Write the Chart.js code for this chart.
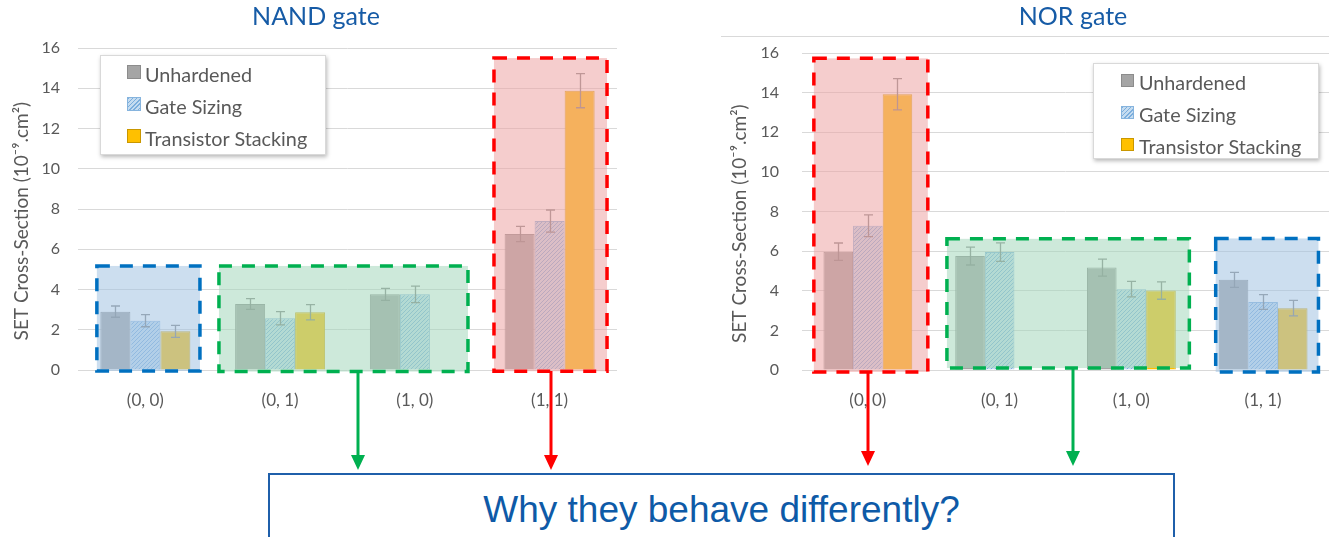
<!DOCTYPE html>
<html>
<head>
<meta charset="utf-8">
<script src="https://cdn.jsdelivr.net/npm/chart.js@4.4.0/dist/chart.umd.min.js"></script>
<style>
  html, body { margin: 0; padding: 0; background: #fff; }
  body { width: 1329px; height: 537px; position: relative; overflow: hidden; font-family: Lato, "DejaVu Sans", sans-serif; }
  canvas { position: absolute; top: 0; }
  #nand { left: 0; }
  #nor { left: 700px; }
  .title { position: absolute; top: 0; line-height: 30px; font: 25px Lato, sans-serif; color: #165BA6; transform: translateX(-50%); white-space: nowrap; }
  .frame-top { position: absolute; left: 721px; top: 36px; width: 608px; height: 1px; background: #D9D9D9; }
  .legend { position: absolute; background: #fff; border: 1px solid #D9D9D9; box-shadow: 1px 2px 4px rgba(0,0,0,0.28); box-sizing: border-box; }
  .legend .item { position: absolute; height: 20px; line-height: 20px; font: 19.8px Lato, sans-serif; color: #595959; white-space: nowrap; }
  .legend .sw { position: absolute; box-sizing: border-box; border: 1px solid; }
  #overlay { position: absolute; left: 0; top: 0; }
  .question { position: absolute; left: 268px; top: 473px; width: 907px; height: 80px; box-sizing: border-box; border: 2px solid #1F5FAA; background: #fff; }
  .question span { position: absolute; left: 0; right: 0; top: 14px; text-align: center; font: 37px "Liberation Sans", Arial, sans-serif; color: #0E5AA7; white-space: nowrap; }
</style>
</head>
<body>
<canvas id="nand" width="640" height="420"></canvas>
<canvas id="nor" width="629" height="420"></canvas>
<div class="frame-top"></div>
<div class="title" style="left:316px">NAND gate</div>
<div class="title" style="left:1073px">NOR gate</div>
<div class="legend" id="legNand" style="left:100px; top:55px; width:226px; height:100px"></div>
<div class="legend" id="legNor" style="left:1093px; top:63px; width:226px; height:96px"></div>
<div class="question"><span>Why they behave differently?</span></div>
<svg id="overlay" width="1329" height="537">
  <line x1="358" y1="372" x2="358" y2="456" stroke="#00B050" stroke-width="3"/>
  <polygon points="351,455 365,455 358,470" fill="#00B050"/>
  <line x1="551" y1="371" x2="551" y2="456" stroke="#FF0000" stroke-width="3"/>
  <polygon points="544,455 558,455 551,470" fill="#FF0000"/>
  <line x1="868" y1="372" x2="868" y2="452" stroke="#FF0000" stroke-width="3"/>
  <polygon points="861,451 875,451 868,466" fill="#FF0000"/>
  <line x1="1073" y1="368" x2="1073" y2="452" stroke="#00B050" stroke-width="3"/>
  <polygon points="1066,451 1080,451 1073,466" fill="#00B050"/>
</svg>
<script>
// Input combinations and series
const categories = ['(0, 0)', '(0, 1)', '(1, 0)', '(1, 1)'];
const seriesNames = ['Unhardened', 'Gate Sizing', 'Transistor Stacking'];
const yTicks = [0, 2, 4, 6, 8, 10, 12, 14, 16];
// trailing spaces nudge the rotated axis title a little lower along the axis
const yTitle = 'SET Cross-Section (10\u207B\u2079.cm\u00B2)     ';

// NAND gate cross-sections (10^-9 cm^2) and error half-widths
const nandUnhardened = [2.90, 3.28, 3.76, 6.76];
const nandGateSizing = [2.45, 2.57, 3.76, 7.40];
const nandStacking = [1.92, 2.87, null, 13.88];
const nandUnhardenedErr = [0.28, 0.27, 0.30, 0.38];
const nandGateSizingErr = [0.30, 0.33, 0.41, 0.55];
const nandStackingErr = [0.30, 0.38, null, 0.85];

// NOR gate cross-sections (10^-9 cm^2) and error half-widths
const norUnhardened = [5.97, 5.75, 5.17, 4.55];
const norGateSizing = [7.28, 5.95, 4.08, 3.43];
const norStacking = [13.92, null, 4.01, 3.12];
const norUnhardenedErr = [0.44, 0.45, 0.43, 0.38];
const norGateSizingErr = [0.55, 0.47, 0.39, 0.37];
const norStackingErr = [0.79, null, 0.44, 0.39];

// Highlight regions: category span and value span
const nandRegions = [
  { from: -0.36, to: 0.405, top: 5.17, bottom: -0.05, tone: 'blue' },
  { from: 0.546, to: 2.394, top: 5.17, bottom: -0.08, tone: 'green' },
  { from: 2.587, to: 3.426, top: 15.5, bottom: -0.06, tone: 'red' }
];
const norRegions = [
  { from: -0.41, to: 0.455, top: 15.73, bottom: -0.1, tone: 'red' },
  { from: 0.60, to: 2.44, top: 6.62, bottom: 0.1, tone: 'green' },
  { from: 2.64, to: 3.42, top: 6.64, bottom: -0.1, tone: 'blue' }
];

const tones = {
  blue:  { stroke: '#0070C0', fill: 'rgba(164,196,227,0.56)' },
  green: { stroke: '#00B050', fill: 'rgba(166,216,189,0.56)' },
  red:   { stroke: '#FF0000', fill: 'rgba(237,166,166,0.56)' }
};

const LABEL = '#595959';

function hatchPattern(ctx) {
  const tile = document.createElement('canvas');
  tile.width = 4; tile.height = 4;
  const g = tile.getContext('2d');
  g.fillStyle = '#C5DCF0';
  g.fillRect(0, 0, 4, 4);
  g.fillStyle = '#7BAEDD';
  for (let i = 0; i < 4; i++) g.fillRect(i, 3 - i, 1, 1);
  return ctx.createPattern(tile, 'repeat');
}

// Error bars, then translucent dashed highlight regions on top of the bars
const regionsPlugin = {
  id: 'regions',
  afterDatasetsDraw(chart, args, opts) {
    const { ctx, scales: { x, y } } = chart;
    ctx.save();
    ctx.strokeStyle = 'rgba(125,125,125,0.95)';
    ctx.lineWidth = 1.3;
    chart.data.datasets.forEach((ds, di) => {
      const meta = chart.getDatasetMeta(di);
      meta.data.forEach((bar, i) => {
        const v = ds.data[i], e = ds.errors[i];
        if (v == null || e == null) return;
        const cx = Math.round(bar.x) + 0.5;
        const yt = y.getPixelForValue(v + e), yb = y.getPixelForValue(v - e);
        ctx.beginPath();
        ctx.moveTo(cx, yt); ctx.lineTo(cx, yb);
        ctx.moveTo(cx - 4.5, yt); ctx.lineTo(cx + 4.5, yt);
        ctx.moveTo(cx - 4.5, yb); ctx.lineTo(cx + 4.5, yb);
        ctx.stroke();
      });
    });
    (opts.regions || []).forEach(r => {
      const t = tones[r.tone];
      const x0 = x.getPixelForValue(r.from), x1 = x.getPixelForValue(r.to);
      const y0 = y.getPixelForValue(r.top), y1 = y.getPixelForValue(r.bottom);
      ctx.save();
      ctx.fillStyle = t.fill;
      ctx.fillRect(x0, y0, x1 - x0, y1 - y0);
      ctx.strokeStyle = t.stroke;
      ctx.lineWidth = 3.5;
      ctx.setLineDash([13, 10]);
      ctx.strokeRect(x0, y0, x1 - x0, y1 - y0);
      ctx.restore();
    });
    ctx.restore();
  }
};

function makeChart(id, values, errors, regions, geo) {
  const canvas = document.getElementById(id);
  const ctx = canvas.getContext('2d');
  const fills = ['#A5A5A5', hatchPattern(ctx), '#FFC000'];
  const borders = ['#8C8C8C', '#86B4DE', '#D9A400'];
  return new Chart(ctx, {
    type: 'bar',
    data: {
      labels: categories,
      datasets: seriesNames.map((name, k) => ({
        label: name,
        data: values[k],
        errors: errors[k],
        backgroundColor: fills[k],
        borderColor: borders[k],
        borderWidth: 1
      }))
    },
    options: {
      responsive: false,
      animation: false,
      events: [],
      layout: { padding: { top: geo.top, right: geo.right, bottom: 0, left: 0 } },
      datasets: { bar: { categoryPercentage: geo.cat, barPercentage: 1 } },
      plugins: {
        legend: { display: false },
        tooltip: { enabled: false },
        regions: { regions: regions }
      },
      scales: {
        x: {
          grid: { display: false },
          border: { display: false },
          ticks: { color: LABEL, font: { family: 'Lato', size: 17 }, padding: 12 },
          afterFit: s => { s.height = 50; }
        },
        y: {
          min: 0, max: 16,
          afterBuildTicks: s => { s.ticks = yTicks.map(v => ({ value: v })); },
          grid: { color: '#D9D9D9', drawTicks: false },
          border: { display: false },
          ticks: { color: LABEL, font: { family: 'Lato', size: 16 }, padding: geo.tickPad },
          title: { display: true, text: yTitle, color: LABEL, font: { family: 'Lato', size: 19 }, padding: { top: geo.titlePad, bottom: 0 } },
          afterFit: s => { s.width = geo.axisW; }
        }
      }
    },
    plugins: [regionsPlugin]
  });
}

makeChart('nand',
  [nandUnhardened, nandGateSizing, nandStacking],
  [nandUnhardenedErr, nandGateSizingErr, nandStackingErr],
  nandRegions,
  { top: 48, right: 23, cat: 0.668, tickPad: 18, axisW: 78, titlePad: 10 });

makeChart('nor',
  [norUnhardened, norGateSizing, norStacking],
  [norUnhardenedErr, norGateSizingErr, norStackingErr],
  norRegions,
  { top: 53, right: 0, cat: 0.674, tickPad: 23, axisW: 102, titlePad: 28 });

// Legends
const swatchCss = [
  'background:#A5A5A5;border-color:#8C8C8C',
  'background:repeating-linear-gradient(135deg,#7BAEDD 0 1px,#C5DCF0 1px 3px);border-color:#86B4DE',
  'background:#FFC000;border-color:#C99700'
];
function buildLegend(id, swLeft, sw, textLeft) {
  const box = document.getElementById(id);
  seriesNames.forEach((name, k) => {
    const item = document.createElement('div');
    item.className = 'item';
    item.style.left = '0px';
    item.style.top = (6 + 32 * k) + 'px';
    item.style.width = '220px';
    const s = document.createElement('span');
    s.className = 'sw';
    s.style.cssText = swatchCss[k] + ';left:' + swLeft + 'px;top:' + (10 - sw / 2) + 'px;width:' + sw + 'px;height:' + sw + 'px';
    const t = document.createElement('span');
    t.style.position = 'absolute';
    t.style.left = textLeft + 'px';
    t.textContent = name;
    item.appendChild(s);
    item.appendChild(t);
    box.appendChild(item);
  });
}
buildLegend('legNand', 26, 14, 44);
buildLegend('legNor', 27, 13, 45);
</script>
</body>
</html>
